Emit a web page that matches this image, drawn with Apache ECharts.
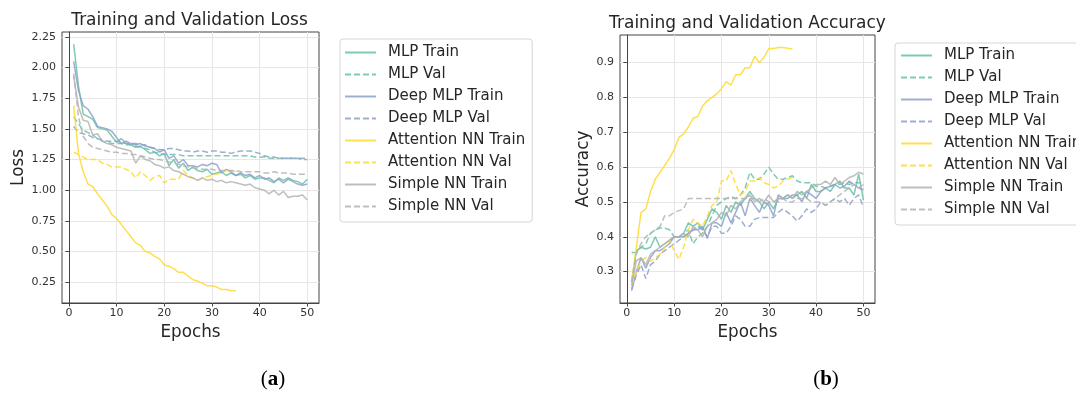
<!DOCTYPE html>
<html>
<head>
<meta charset="utf-8">
<title>Training curves</title>
<script src="https://cdn.jsdelivr.net/npm/echarts/dist/echarts.min.js"></script>
<style>
  html, body { margin: 0; padding: 0; background: #fff; }
  #chart { width: 1076px; height: 400px; }
</style>
</head>
<body>
<div id="chart"></div>
<script>
// epochs on the x axis
const epochs = [1, 2, 3, 4, 5, 6, 7, 8, 9, 10, 11, 12, 13, 14, 15, 16, 17, 18, 19, 20,
  21, 22, 23, 24, 25, 26, 27, 28, 29, 30, 31, 32, 33, 34, 35, 36, 37, 38, 39, 40,
  41, 42, 43, 44, 45, 46, 47, 48, 49, 50]
const xTicks = [0, 10, 20, 30, 40, 50]
const lossTicks = [0.25, 0.5, 0.75, 1.0, 1.25, 1.5, 1.75, 2.0, 2.25]
const accTicks = [0.3, 0.4, 0.5, 0.6, 0.7, 0.8, 0.9]

const seriesNames = ['MLP Train', 'MLP Val', 'Deep MLP Train', 'Deep MLP Val',
  'Attention NN Train', 'Attention NN Val', 'Simple NN Train', 'Simple NN Val']

// (a) loss
const lossMlpTrain = [2.19, 1.85, 1.62, 1.60, 1.58, 1.51, 1.50, 1.49, 1.44, 1.39,
  1.42, 1.38, 1.37, 1.35, 1.36, 1.33, 1.30, 1.31, 1.28, 1.30,
  1.20, 1.25, 1.18, 1.22, 1.16, 1.19, 1.16, 1.15, 1.17, 1.13,
  1.14, 1.15, 1.12, 1.14, 1.12, 1.13, 1.10, 1.12, 1.09, 1.10,
  1.10, 1.08, 1.06, 1.10, 1.08, 1.10, 1.08, 1.07, 1.05, 1.09]
const lossMlpVal = [1.60, 1.54, 1.49, 1.47, 1.45, 1.42, 1.40, 1.39, 1.38, 1.38,
  1.38, 1.37, 1.37, 1.36, 1.35, 1.34, 1.33, 1.31, 1.30, 1.29,
  1.29, 1.29, 1.29, 1.28, 1.28, 1.28, 1.28, 1.28, 1.28, 1.28,
  1.28, 1.28, 1.28, 1.28, 1.28, 1.28, 1.28, 1.28, 1.27, 1.27,
  1.27, 1.26, 1.26, 1.26, 1.26, 1.26, 1.26, 1.26, 1.25, 1.25]
const lossDeepTrain = [2.05, 1.81, 1.69, 1.66, 1.60, 1.52, 1.51, 1.50, 1.48, 1.43,
  1.38, 1.40, 1.38, 1.37, 1.38, 1.36, 1.35, 1.34, 1.31, 1.33,
  1.26, 1.28, 1.22, 1.25, 1.20, 1.20, 1.19, 1.21, 1.20, 1.22,
  1.21, 1.14, 1.17, 1.15, 1.12, 1.14, 1.12, 1.13, 1.10, 1.12,
  1.09, 1.10, 1.07, 1.09, 1.06, 1.09, 1.07, 1.05, 1.04, 1.05]
const lossDeepVal = [1.52, 1.47, 1.46, 1.45, 1.43, 1.42, 1.41, 1.40, 1.40, 1.40,
  1.39, 1.38, 1.38, 1.38, 1.37, 1.37, 1.35, 1.34, 1.33, 1.33,
  1.34, 1.34, 1.33, 1.32, 1.32, 1.31, 1.32, 1.32, 1.31, 1.32,
  1.32, 1.31, 1.31, 1.30, 1.31, 1.32, 1.32, 1.32, 1.31, 1.30,
  1.28, 1.27, 1.27, 1.26, 1.26, 1.26, 1.26, 1.26, 1.26, 1.26]
const lossAttnTrain = [1.69, 1.30, 1.15, 1.05, 1.03, 0.97, 0.92, 0.87, 0.80, 0.77,
  0.72, 0.67, 0.62, 0.57, 0.55, 0.50, 0.49, 0.46, 0.44, 0.39,
  0.38, 0.36, 0.33, 0.33, 0.30, 0.27, 0.26, 0.24, 0.22, 0.22,
  0.21, 0.19, 0.19, 0.18, 0.18]
const lossAttnVal = [1.31, 1.29, 1.27, 1.25, 1.25, 1.25, 1.22, 1.21, 1.19, 1.19,
  1.19, 1.17, 1.15, 1.10, 1.15, 1.12, 1.08, 1.11, 1.12, 1.06,
  1.09, 1.09, 1.09, 1.16, 1.12, 1.10, 1.08, 1.10, 1.11, 1.12,
  1.13, 1.14, 1.16, 1.16, 1.15]
const lossSimpleTrain = [1.93, 1.68, 1.57, 1.56, 1.45, 1.46, 1.40, 1.38, 1.37, 1.35,
  1.34, 1.33, 1.32, 1.22, 1.28, 1.25, 1.24, 1.21, 1.20, 1.18,
  1.19, 1.16, 1.15, 1.13, 1.11, 1.10, 1.08, 1.10, 1.08, 1.09,
  1.07, 1.08, 1.06, 1.07, 1.06, 1.05, 1.04, 1.05, 1.02, 1.01,
  1.00, 0.97, 1.00, 0.96, 0.99, 0.94, 0.95, 0.95, 0.96, 0.92]
const lossSimpleVal = [1.95, 1.60, 1.44, 1.38, 1.35, 1.34, 1.33, 1.32, 1.31, 1.31,
  1.30, 1.30, 1.29, 1.29, 1.28, 1.27, 1.26, 1.25, 1.25, 1.24,
  1.23, 1.22, 1.21, 1.20, 1.19, 1.18, 1.18, 1.17, 1.17, 1.17,
  1.16, 1.16, 1.16, 1.16, 1.16, 1.15, 1.15, 1.15, 1.15, 1.15,
  1.14, 1.14, 1.15, 1.14, 1.14, 1.14, 1.13, 1.13, 1.13, 1.13]

// (b) accuracy
const accMlpTrain = [0.27, 0.36, 0.37, 0.365, 0.37, 0.40, 0.37, 0.38, 0.39, 0.40,
  0.40, 0.41, 0.44, 0.43, 0.44, 0.42, 0.45, 0.48, 0.47, 0.45,
  0.49, 0.47, 0.50, 0.49, 0.51, 0.53, 0.51, 0.50, 0.48, 0.50,
  0.48, 0.51, 0.51, 0.52, 0.51, 0.52, 0.53, 0.51, 0.55, 0.53,
  0.53, 0.54, 0.53, 0.55, 0.56, 0.54, 0.54, 0.52, 0.58, 0.505]
const accMlpVal = [0.355, 0.355, 0.37, 0.38, 0.41, 0.42, 0.425, 0.425, 0.42, 0.40,
  0.40, 0.41, 0.42, 0.38, 0.40, 0.41, 0.43, 0.46, 0.49, 0.50,
  0.51, 0.515, 0.51, 0.52, 0.54, 0.585, 0.565, 0.565, 0.58, 0.60,
  0.58, 0.565, 0.565, 0.57, 0.575, 0.56, 0.555, 0.555, 0.555, 0.545,
  0.545, 0.54, 0.545, 0.55, 0.55, 0.555, 0.55, 0.555, 0.555, 0.555]
const accDeepTrain = [0.245, 0.30, 0.34, 0.31, 0.34, 0.36, 0.36, 0.37, 0.38, 0.40,
  0.40, 0.40, 0.41, 0.42, 0.42, 0.43, 0.395, 0.44, 0.44, 0.43,
  0.47, 0.44, 0.47, 0.50, 0.46, 0.51, 0.49, 0.47, 0.50, 0.49,
  0.46, 0.52, 0.51, 0.51, 0.52, 0.52, 0.50, 0.53, 0.52, 0.51,
  0.53, 0.54, 0.545, 0.55, 0.54, 0.545, 0.56, 0.55, 0.54, 0.535]
const accDeepVal = [0.25, 0.29, 0.32, 0.28, 0.32, 0.33, 0.35, 0.36, 0.37, 0.38,
  0.39, 0.40, 0.41, 0.42, 0.43, 0.42, 0.40, 0.43, 0.43, 0.41,
  0.41, 0.43, 0.46, 0.45, 0.43, 0.43, 0.45, 0.455, 0.455, 0.455,
  0.455, 0.47, 0.48, 0.47, 0.46, 0.445, 0.46, 0.48, 0.47, 0.48,
  0.50, 0.49, 0.50, 0.51, 0.50, 0.51, 0.49, 0.51, 0.52, 0.485]
const accAttnTrain = [0.27, 0.37, 0.47, 0.48, 0.53, 0.565, 0.585, 0.605, 0.625, 0.65,
  0.685, 0.695, 0.715, 0.74, 0.745, 0.775, 0.79, 0.80, 0.81, 0.825,
  0.845, 0.835, 0.865, 0.865, 0.885, 0.885, 0.918, 0.90, 0.915, 0.94,
  0.94, 0.943, 0.943, 0.941, 0.939]
const accAttnVal = [0.26, 0.30, 0.33, 0.34, 0.33, 0.34, 0.35, 0.37, 0.39, 0.36,
  0.335, 0.37, 0.42, 0.45, 0.44, 0.43, 0.46, 0.49, 0.50, 0.56,
  0.56, 0.59, 0.55, 0.52, 0.53, 0.56, 0.56, 0.57, 0.555, 0.55,
  0.54, 0.545, 0.56, 0.565, 0.57]
const accSimpleTrain = [0.26, 0.33, 0.34, 0.32, 0.35, 0.36, 0.37, 0.38, 0.39, 0.40,
  0.40, 0.41, 0.40, 0.43, 0.42, 0.40, 0.43, 0.44, 0.45, 0.47,
  0.46, 0.49, 0.48, 0.50, 0.51, 0.52, 0.50, 0.51, 0.50, 0.52,
  0.50, 0.51, 0.51, 0.52, 0.51, 0.53, 0.52, 0.53, 0.54, 0.55,
  0.55, 0.56, 0.55, 0.57, 0.55, 0.56, 0.57, 0.575, 0.585, 0.58]
const accSimpleVal = [0.27, 0.35, 0.38, 0.40, 0.41, 0.42, 0.43, 0.46, 0.46, 0.47,
  0.475, 0.48, 0.51, 0.51, 0.51, 0.51, 0.51, 0.51, 0.51, 0.51,
  0.51, 0.51, 0.51, 0.51, 0.51, 0.51, 0.51, 0.50, 0.51, 0.50,
  0.50, 0.50, 0.51, 0.50, 0.50, 0.51, 0.51, 0.51, 0.50, 0.50,
  0.50, 0.49, 0.50, 0.51, 0.52, 0.53, 0.54, 0.55, 0.54, 0.55]

const colors = ['#66c2a5', '#66c2a5', '#8da0cb', '#8da0cb', '#ffd92f', '#ffd92f', '#b3b3b3', '#b3b3b3']
const font = 'DejaVu Sans'
const textColor = '#262626'

const lossData = [lossMlpTrain, lossMlpVal, lossDeepTrain, lossDeepVal,
  lossAttnTrain, lossAttnVal, lossSimpleTrain, lossSimpleVal]
const accData = [accMlpTrain, accMlpVal, accDeepTrain, accDeepVal,
  accAttnTrain, accAttnVal, accSimpleTrain, accSimpleVal]

function makeSeries(values, idx, axisIndex) {
  return {
    name: seriesNames[idx],
    type: 'line',
    xAxisIndex: axisIndex,
    yAxisIndex: axisIndex,
    data: values.map((v, i) => [epochs[i], v]),
    symbol: 'none',
    showSymbol: false,
    silent: true,
    lineStyle: {
      color: colors[idx],
      width: 1.5,
      opacity: 0.85,
      type: idx % 2 === 1 ? [6, 3] : 'solid'
    },
    itemStyle: { color: colors[idx] }
  }
}

function xAxis(gridIndex) {
  return {
    type: 'value',
    gridIndex,
    min: -1.45,
    max: 52.45,
    name: 'Epochs',
    nameLocation: 'middle',
    nameGap: 20,
    nameTextStyle: { fontFamily: font, fontSize: 16.8, color: textColor },
    axisLine: { show: true, lineStyle: { color: '#444' } },
    axisTick: { show: true, customValues: xTicks, length: 3.5, lineStyle: { color: '#444' } },
    axisLabel: { customValues: xTicks, fontFamily: font, fontSize: 11, color: '#333', margin: 5 },
    splitLine: { show: true, lineStyle: { color: '#e6e6e6', width: 1 } }
  }
}

function yAxis(gridIndex, name, min, max, ticks, digits, gap) {
  return {
    type: 'value',
    gridIndex,
    min,
    max,
    name,
    nameLocation: 'middle',
    nameGap: gap,
    nameTextStyle: { fontFamily: font, fontSize: 16.8, color: textColor },
    axisLine: { show: true, lineStyle: { color: '#444' } },
    axisTick: { show: true, customValues: ticks, length: 3.5, lineStyle: { color: '#444' } },
    axisLabel: {
      customValues: ticks,
      fontFamily: font,
      fontSize: 11,
      color: '#333',
      margin: 6,
      formatter: v => v.toFixed(digits)
    },
    splitLine: { show: true, lineStyle: { color: '#e6e6e6', width: 1 } }
  }
}

function legend(left, top, pad) {
  return {
    orient: 'vertical',
    left,
    top,
    data: seriesNames,
    padding: pad,
    itemWidth: 31,
    itemHeight: 14,
    itemGap: 7,
    borderColor: '#d6d6d6',
    borderWidth: 1,
    borderRadius: 3,
    backgroundColor: '#fff',
    selectedMode: false,
    // hide the marker the line legend icon puts in the middle
    itemStyle: { color: 'transparent', borderColor: 'transparent', borderWidth: 0, opacity: 0 },
    textStyle: { fontFamily: font, fontSize: 15, color: textColor, lineHeight: 14, padding: [0, 0, 0, 7] }
  }
}

const chart = echarts.init(document.getElementById('chart'), null, { renderer: 'canvas' })

chart.setOption({
  animation: false,
  backgroundColor: '#fff',
  title: [
    {
      text: 'Training and Validation Loss',
      left: 189.5, top: 12, textAlign: 'center', padding: 0,
      textStyle: { fontFamily: font, fontSize: 17, fontWeight: 'normal', color: textColor }
    },
    {
      text: 'Training and Validation Accuracy',
      left: 747.5, top: 15, textAlign: 'center', padding: 0,
      textStyle: { fontFamily: font, fontSize: 17, fontWeight: 'normal', color: textColor }
    },
    {
      text: '({b|a})',
      left: 273, top: 369, textAlign: 'center', padding: 0,
      textStyle: {
        fontFamily: 'Liberation Serif', fontSize: 21, fontWeight: 'normal', color: '#000',
        rich: { b: { fontFamily: 'Liberation Serif', fontSize: 21, fontWeight: 'bold', color: '#000' } }
      }
    },
    {
      text: '({b|b})',
      left: 826, top: 369, textAlign: 'center', padding: 0,
      textStyle: {
        fontFamily: 'Liberation Serif', fontSize: 21, fontWeight: 'normal', color: '#000',
        rich: { b: { fontFamily: 'Liberation Serif', fontSize: 21, fontWeight: 'bold', color: '#000' } }
      }
    }
  ],
  legend: [
    legend(340, 39, [6, 7, 8, 4]),
    legend(895, 43, [5, 7, 8, 5])
  ],
  grid: [
    { left: 62, top: 32, width: 257, height: 271, show: true, borderColor: '#444', borderWidth: 1 },
    { left: 620, top: 35, width: 255, height: 268, show: true, borderColor: '#444', borderWidth: 1 }
  ],
  xAxis: [xAxis(0), xAxis(1)],
  yAxis: [
    yAxis(0, 'Loss', 0.08, 2.29, lossTicks, 2, 34),
    yAxis(1, 'Accuracy', 0.21, 0.979, accTicks, 1, 28)
  ],
  series: [
    ...lossData.map((d, i) => makeSeries(d, i, 0)),
    ...accData.map((d, i) => makeSeries(d, i, 1))
  ]
})
</script>
</body>
</html>
